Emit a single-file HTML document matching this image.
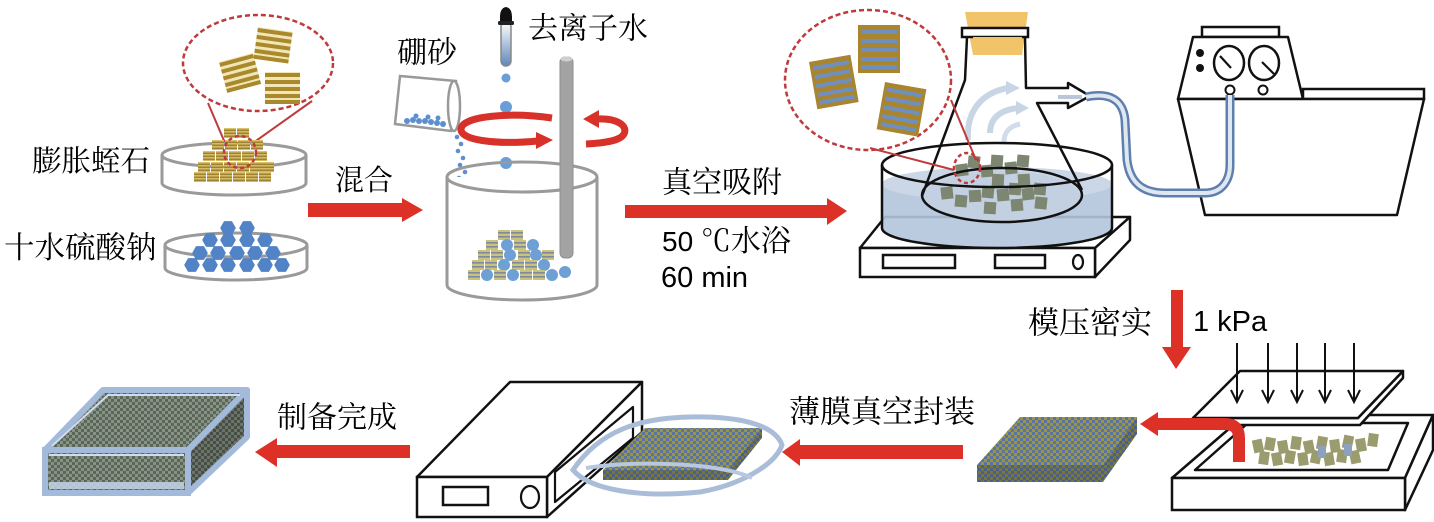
<!DOCTYPE html>
<html><head><meta charset="utf-8"><style>
html,body{margin:0;padding:0;background:#fff;}
svg{display:block;}
.cn{font-family:"Liberation Serif","Noto Serif CJK SC",serif;}
.la{font-family:"Liberation Sans",sans-serif;}
</style></head><body>
<svg width="1434" height="522" viewBox="0 0 1434 522" xmlns="http://www.w3.org/2000/svg">
<defs>
<g id="gt"><rect width="12" height="10" fill="#dcc06a"/><rect y="1.5" width="12" height="1.6" fill="#9c8232"/><rect y="4.5" width="12" height="1.6" fill="#9c8232"/><rect y="7.5" width="12" height="1.6" fill="#9c8232"/></g>
<g id="gb"><rect width="12" height="10" fill="#c9c27a"/><rect y="2" width="12" height="1.6" fill="#7f8aa0"/><rect y="6" width="12" height="1.6" fill="#7f8aa0"/></g>
<polygon id="hx" points="7,0 3.5,6.1 -3.5,6.1 -7,0 -3.5,-6.1 3.5,-6.1" fill="#5183c6" stroke="#5183c6" stroke-width="1.5" stroke-linejoin="round"/>
<rect id="gs" x="-6" y="-6" width="12" height="12" fill="#7c8670"/>
<rect id="ts" x="-5" y="-6.5" width="10" height="13" fill="#9a9c6e"/>
<g id="bt"><rect width="42" height="48" fill="#a8852e"/><rect x="3" y="5" width="36" height="4" fill="#6f90be"/><rect x="3" y="14" width="36" height="4" fill="#6f90be"/><rect x="3" y="23" width="36" height="4" fill="#6f90be"/><rect x="3" y="32" width="36" height="4" fill="#6f90be"/><rect x="3" y="40" width="36" height="4" fill="#6f90be"/></g>
<g id="st"><rect width="35" height="32" fill="#f2e6b6"/><rect y="1" width="35" height="4" fill="#a8892c"/><rect y="8" width="35" height="4" fill="#a8892c"/><rect y="15" width="35" height="4" fill="#a8892c"/><rect y="22" width="35" height="4" fill="#a8892c"/><rect y="28" width="35" height="4" fill="#a8892c"/></g>
<pattern id="ck" width="6" height="6" patternUnits="userSpaceOnUse"><rect width="6" height="6" fill="#9a9446"/><rect width="3" height="3" fill="#5a74a2"/><rect x="3" y="3" width="3" height="3" fill="#5a74a2"/></pattern>
<pattern id="ckd" width="6" height="6" patternUnits="userSpaceOnUse"><rect width="6" height="6" fill="#7a7636"/><rect width="3" height="3" fill="#4a6088"/><rect x="3" y="3" width="3" height="3" fill="#4a6088"/></pattern>
<pattern id="ckg" width="6" height="6" patternUnits="userSpaceOnUse"><rect width="6" height="6" fill="#8a9282"/><rect width="3" height="3" fill="#59665c"/><rect x="3" y="3" width="3" height="3" fill="#59665c"/></pattern>
<pattern id="ckg2" width="6" height="6" patternUnits="userSpaceOnUse"><rect width="6" height="6" fill="#6c7468"/><rect width="3" height="3" fill="#454f48"/><rect x="3" y="3" width="3" height="3" fill="#454f48"/></pattern>
<linearGradient id="liq" x1="0" y1="0" x2="0" y2="1"><stop offset="0" stop-color="#ffffff"/><stop offset="1" stop-color="#5f86b8"/></linearGradient>
</defs>

<!-- ===== Top-left: zoom ellipse ===== -->
<ellipse cx="258" cy="63" rx="75" ry="48" fill="none" stroke="#c0393b" stroke-width="2.5" stroke-dasharray="5,3"/>
<use href="#st" transform="translate(219,62) rotate(-15)"/>
<use href="#st" transform="translate(258,27) rotate(8)"/>
<use href="#st" transform="translate(265,72)"/>
<line x1="228" y1="150" x2="208" y2="103" stroke="#c0393b" stroke-width="2"/>
<line x1="253" y1="143" x2="312" y2="101" stroke="#c0393b" stroke-width="2"/>

<!-- dish 1 -->
<path d="M162 155 L162 183 A72 12 0 0 0 306 183 L306 155" fill="#fff" stroke="#9a9a9a" stroke-width="3"/>
<ellipse cx="234" cy="155" rx="72" ry="12" fill="#fff" stroke="#9a9a9a" stroke-width="3"/>
<g>
<use href="#gt" x="224" y="128"/><use href="#gt" x="237" y="128"/>
<use href="#gt" x="212" y="140"/><use href="#gt" x="225" y="140"/><use href="#gt" x="238" y="140"/><use href="#gt" x="251" y="140"/>
<use href="#gt" x="203" y="151"/><use href="#gt" x="216" y="151"/><use href="#gt" x="229" y="151"/><use href="#gt" x="242" y="151"/><use href="#gt" x="255" y="151"/>
<use href="#gt" x="198" y="162"/><use href="#gt" x="211" y="162"/><use href="#gt" x="224" y="162"/><use href="#gt" x="237" y="162"/><use href="#gt" x="250" y="162"/><use href="#gt" x="262" y="162"/>
<use href="#gt" x="194" y="172"/><use href="#gt" x="207" y="172"/><use href="#gt" x="220" y="172"/><use href="#gt" x="233" y="172"/><use href="#gt" x="246" y="172"/><use href="#gt" x="259" y="172"/>
</g>
<ellipse cx="240" cy="152" rx="16" ry="16" fill="none" stroke="#c0393b" stroke-width="2.5" stroke-dasharray="4,3"/>

<!-- dish 2 -->
<path d="M165 245 L165 268 A71 12 0 0 0 307 268 L307 245" fill="#fff" stroke="#9a9a9a" stroke-width="3"/>
<ellipse cx="236" cy="245" rx="71" ry="12" fill="#fff" stroke="#9a9a9a" stroke-width="3"/>
<g>
<use href="#hx" x="228" y="228"/><use href="#hx" x="247" y="228"/>
<use href="#hx" x="210" y="240"/><use href="#hx" x="228" y="240"/><use href="#hx" x="247" y="240"/><use href="#hx" x="265" y="240"/>
<use href="#hx" x="200" y="253"/><use href="#hx" x="218" y="253"/><use href="#hx" x="237" y="253"/><use href="#hx" x="255" y="253"/><use href="#hx" x="273" y="253"/>
<use href="#hx" x="192" y="265"/><use href="#hx" x="210" y="265"/><use href="#hx" x="228" y="265"/><use href="#hx" x="247" y="265"/><use href="#hx" x="265" y="265"/><use href="#hx" x="282" y="265"/>
</g>

<text class="cn" x="32" y="162" font-size="29.5" dominant-baseline="central">膨胀蛭石</text>
<text class="cn" x="4" y="248" font-size="30.5" dominant-baseline="central">十水硫酸钠</text>

<!-- arrow 1 -->
<polygon points="308,203 402,203 402,198 423,210 402,222 402,217 308,217" fill="#dd3127"/>
<text class="cn" x="335" y="181" font-size="29" dominant-baseline="central">混合</text>

<!-- ===== beaker ===== -->
<text class="cn" x="397" y="53" font-size="30" dominant-baseline="central">硼砂</text>
<text class="cn" x="528" y="29" font-size="30" dominant-baseline="central">去离子水</text>
<!-- dropper -->
<rect x="501" y="22" width="10" height="44" rx="5" fill="url(#liq)" stroke="#888" stroke-width="1.5"/>
<path d="M500 24 L500 17 Q500 8 506 7 Q512 8 512 17 L512 24 Z" fill="#111"/>
<rect x="498" y="21" width="16" height="4" rx="1.5" fill="#222"/>
<circle cx="506" cy="78" r="4.5" fill="#6a9ed6"/>
<circle cx="506" cy="107" r="6" fill="#6a9ed6"/>
<circle cx="506" cy="163" r="6" fill="#6a9ed6"/>
<!-- cup -->
<polygon points="400,76 456,81 451,131 395,124" fill="#fff" stroke="#999" stroke-width="2.5"/>
<ellipse cx="454" cy="106" rx="6" ry="25" fill="#fff" stroke="#999" stroke-width="2.5"/>
<g fill="#5c8fd0">
<circle cx="407" cy="121" r="3"/><circle cx="413" cy="120" r="3"/><circle cx="419" cy="121" r="3"/><circle cx="425" cy="121" r="3"/><circle cx="431" cy="122" r="3"/><circle cx="437" cy="123" r="3"/><circle cx="443" cy="124" r="3"/><circle cx="416" cy="116" r="2.5"/><circle cx="428" cy="117" r="2.5"/><circle cx="438" cy="118" r="2.5"/>
<circle cx="457" cy="137" r="2.3"/><circle cx="461" cy="144" r="2.3"/><circle cx="458" cy="151" r="2.3"/><circle cx="463" cy="158" r="2.3"/><circle cx="460" cy="165" r="2.3"/><circle cx="465" cy="172" r="2.3"/><circle cx="459" cy="178" r="2.3"/><circle cx="463" cy="184" r="2.3"/><circle cx="458" cy="188" r="2"/>
</g>
<!-- beaker body -->
<path d="M447 177 L447 285 A75 15 0 0 0 597 285 L597 177" fill="#fff" stroke="#9a9a9a" stroke-width="3"/>
<ellipse cx="522" cy="177" rx="75" ry="15" fill="none" stroke="#9a9a9a" stroke-width="3"/>
<g>
<use href="#gb" x="498" y="230"/><use href="#gb" x="511" y="230"/>
<use href="#gb" x="486" y="240"/><circle cx="507" cy="245" r="6" fill="#6e9fd5"/><use href="#gb" x="514" y="240"/><circle cx="533" cy="245" r="6" fill="#6e9fd5"/>
<use href="#gb" x="478" y="250"/><use href="#gb" x="491" y="250"/><circle cx="510" cy="255" r="6" fill="#6e9fd5"/><use href="#gb" x="518" y="250"/><circle cx="536" cy="255" r="6" fill="#6e9fd5"/><use href="#gb" x="542" y="250"/>
<use href="#gb" x="472" y="260"/><use href="#gb" x="485" y="260"/><circle cx="504" cy="265" r="6" fill="#6e9fd5"/><use href="#gb" x="512" y="260"/><use href="#gb" x="525" y="260"/><circle cx="544" cy="265" r="6" fill="#6e9fd5"/>
<use href="#gb" x="468" y="270"/><circle cx="487" cy="275" r="6" fill="#6e9fd5"/><use href="#gb" x="494" y="270"/><circle cx="513" cy="275" r="6" fill="#6e9fd5"/><use href="#gb" x="520" y="270"/><use href="#gb" x="533" y="270"/><circle cx="552" cy="275" r="6" fill="#6e9fd5"/><circle cx="565" cy="272" r="6" fill="#6e9fd5"/>
</g>
<!-- rod -->
<rect x="560" y="57" width="13" height="201" rx="5" fill="#a3a3a3" stroke="#8c8c8c" stroke-width="1"/>
<ellipse cx="566.5" cy="59" rx="6" ry="2.5" fill="#cfcfcf"/>
<!-- swirl -->
<path d="M552 118 C 510 112, 462 116, 461 129 C 460 140, 495 145, 538 141" stroke="#d8312a" stroke-width="7" fill="none"/>
<polygon points="536,132 553,140 536,149" fill="#d8312a"/>
<path d="M596 119 C 618 118, 628 126, 624 134 C 620 141, 605 143, 586 144" stroke="#d8312a" stroke-width="7" fill="none"/>
<polygon points="599,110 583,119 599,128" fill="#d8312a"/>

<!-- arrow 2 -->
<polygon points="625,205 827,205 827,198 847,211 827,225 827,218 625,218" fill="#dd3127"/>
<text class="cn" x="662" y="183" font-size="30" dominant-baseline="central">真空吸附</text>
<text x="662" y="241" font-size="28" dominant-baseline="central"><tspan class="la">50 </tspan><tspan class="cn" font-size="30">℃水浴</tspan></text>
<text class="la" x="661" y="278" font-size="29" dominant-baseline="central">60 min</text>

<!-- ===== flask / bath ===== -->
<ellipse cx="868" cy="80" rx="83" ry="70" fill="none" stroke="#c0393b" stroke-width="2.5" stroke-dasharray="5,3"/>
<use href="#bt" transform="translate(858,25)"/>
<use href="#bt" transform="translate(809,62) rotate(-10)"/>
<use href="#bt" transform="translate(885,82) rotate(10)"/>

<!-- hot plate -->
<polygon points="885,217 1130,217 1095,248 860,248" fill="#fff" stroke="#111" stroke-width="2.5" stroke-linejoin="round"/>
<polygon points="1095,248 1130,217 1130,240 1095,277" fill="#fff" stroke="#111" stroke-width="2.5" stroke-linejoin="round"/>
<rect x="860" y="248" width="235" height="29" fill="#fff" stroke="#111" stroke-width="2.5"/>
<rect x="883" y="255" width="72" height="13" fill="none" stroke="#111" stroke-width="2.5"/>
<rect x="995" y="255" width="50" height="13" fill="none" stroke="#111" stroke-width="2.5"/>
<ellipse cx="1078" cy="262" rx="5" ry="7" fill="none" stroke="#111" stroke-width="2.2"/>

<!-- water -->
<path d="M882 182 L882 228 A115 20 0 0 0 1112 228 L1112 182 Z" fill="#b3c4db" opacity="0.9"/>
<ellipse cx="997" cy="184" rx="115" ry="17" fill="#cbd7e6"/>
<ellipse cx="1002" cy="196" rx="78" ry="25" fill="#c3d0e1"/>
<!-- particles -->
<g>
<use href="#gs" transform="translate(962,170) rotate(-8)"/><use href="#gs" transform="translate(974,162) rotate(6)"/><use href="#gs" transform="translate(987,171) rotate(-5)"/><use href="#gs" transform="translate(997,161) rotate(4)"/><use href="#gs" transform="translate(1011,168) rotate(-6)"/><use href="#gs" transform="translate(1023,161) rotate(5)"/>
<use href="#gs" transform="translate(998,180) rotate(3)"/><use href="#gs" transform="translate(1024,180) rotate(-4)"/>
<use href="#gs" transform="translate(947,193) rotate(-6)"/><use href="#gs" transform="translate(961,201) rotate(5)"/><use href="#gs" transform="translate(975,196) rotate(-3)"/><use href="#gs" transform="translate(988,192) rotate(6)"/><use href="#gs" transform="translate(1003,195) rotate(-5)"/><use href="#gs" transform="translate(1015,189) rotate(4)"/><use href="#gs" transform="translate(1028,194) rotate(-7)"/><use href="#gs" transform="translate(1040,189) rotate(5)"/>
<use href="#gs" transform="translate(990,208) rotate(4)"/><use href="#gs" transform="translate(1017,205) rotate(-5)"/><use href="#gs" transform="translate(1041,203) rotate(6)"/>
</g>
<!-- flask -->
<ellipse cx="1002" cy="195" rx="80" ry="27" fill="none" stroke="#111" stroke-width="2.5"/>
<polygon points="965,12 1028,12 1022,55 973,55" fill="#f2c46a"/>
<rect x="962" y="28" width="66" height="9" fill="#fff" stroke="#111" stroke-width="2.5"/>
<polygon points="973,37 1022,37 1020,52 975,52" fill="#f2c46a"/>
<polyline points="967,37 965,80 922,196" fill="none" stroke="#111" stroke-width="2.5"/>
<polygon points="1027,89 1068,89 1068,84 1089,96 1068,107 1068,102 1036,102" fill="#fff"/>
<polyline points="1025,37 1026,88 1068,88 1068,83 1090,96 1068,108 1068,103 1037,103 1082,190" fill="none" stroke="#111" stroke-width="2.5" stroke-linejoin="round"/>
<line x1="1058" y1="97" x2="1082" y2="97" stroke="#b9c7d9" stroke-width="4"/>
<!-- vapor -->
<path d="M968 140 C 966 108, 985 92, 1008 88" fill="none" stroke="#c8d5e5" stroke-width="6"/>
<polygon points="1006,81 1020,88 1006,95" fill="#c8d5e5"/>
<path d="M990 133 C 990 118, 1000 110, 1018 108" fill="none" stroke="#c8d5e5" stroke-width="6"/>
<polygon points="1016,101 1029,108 1016,115" fill="#c8d5e5"/>
<path d="M1004 142 C 1004 132, 1010 126, 1020 124" fill="none" stroke="#d2dcea" stroke-width="5"/>
<!-- bath outline -->
<ellipse cx="997" cy="165" rx="115" ry="22" fill="none" stroke="#111" stroke-width="2.5"/>
<path d="M882 165 L882 228 A115 20 0 0 0 1112 228 L1112 165" fill="none" stroke="#111" stroke-width="2.5"/>
<!-- red callout -->
<line x1="954" y1="170" x2="870" y2="148" stroke="#c0393b" stroke-width="2"/>
<line x1="976" y1="160" x2="951" y2="100" stroke="#c0393b" stroke-width="2"/>
<ellipse cx="967" cy="168" rx="13" ry="15" fill="none" stroke="#c0393b" stroke-width="2.5" stroke-dasharray="4,3"/>

<!-- pump -->
<rect x="1202" y="27" width="77" height="10" fill="#fff" stroke="#111" stroke-width="2.5"/>
<polygon points="1193,37 1288,37 1303,99 1178,99" fill="#fff" stroke="#111" stroke-width="2.5" stroke-linejoin="round"/>
<rect x="1303" y="89" width="121" height="10" fill="#fff" stroke="#111" stroke-width="2.5"/>
<polygon points="1178,99 1424,99 1397,215 1205,215" fill="#fff" stroke="#111" stroke-width="2.5" stroke-linejoin="round"/>
<ellipse cx="1229" cy="63" rx="15" ry="17" fill="#fff" stroke="#111" stroke-width="2.5"/>
<ellipse cx="1264" cy="63" rx="15" ry="17" fill="#fff" stroke="#111" stroke-width="2.5"/>
<line x1="1220" y1="56" x2="1231" y2="68" stroke="#111" stroke-width="2.2"/>
<line x1="1262" y1="62" x2="1274" y2="74" stroke="#111" stroke-width="2.2"/>
<circle cx="1200" cy="53" r="4" fill="#111"/>
<circle cx="1200" cy="68" r="4" fill="#111"/>
<circle cx="1230" cy="90" r="4.5" fill="#fff" stroke="#111" stroke-width="2"/>
<circle cx="1263" cy="90" r="4.5" fill="#fff" stroke="#111" stroke-width="2"/>
<!-- tube -->
<path d="M1086 97 C 1110 92, 1123 100, 1125 120 L 1127 160 C 1130 185, 1145 193, 1165 193 L 1205 193 C 1222 193, 1230 180, 1230 165 L 1230 95" fill="none" stroke="#5f80ae" stroke-width="9"/>
<path d="M1086 97 C 1110 92, 1123 100, 1125 120 L 1127 160 C 1130 185, 1145 193, 1165 193 L 1205 193 C 1222 193, 1230 180, 1230 165 L 1230 95" fill="none" stroke="#dfe7f1" stroke-width="4"/>

<!-- ===== press ===== -->
<rect x="1171" y="290" width="12" height="58" fill="#dd3127"/>
<polygon points="1162,347 1191,347 1176,369" fill="#dd3127"/>
<text class="cn" x="1028" y="323" font-size="31" dominant-baseline="central">模压密实</text>
<text class="la" x="1193" y="322" font-size="29" dominant-baseline="central">1 kPa</text>

<!-- tray -->
<polygon points="1245,415 1433,415 1405,478 1172,478" fill="#fff" stroke="#111" stroke-width="2.5" stroke-linejoin="round"/>
<polygon points="1405,478 1433,415 1433,450 1405,510" fill="#fff" stroke="#111" stroke-width="2.5" stroke-linejoin="round"/>
<rect x="1172" y="478" width="233" height="32" fill="#fff" stroke="#111" stroke-width="2.5"/>
<polygon points="1248,423 1408,423 1388,470 1195,470" fill="#fff" stroke="#111" stroke-width="2.5" stroke-linejoin="round"/>
<g>
<use href="#ts" transform="translate(1258,446) rotate(-12)"/><use href="#ts" transform="translate(1270,444) rotate(10)"/><use href="#ts" transform="translate(1283,447) rotate(-10)"/><use href="#ts" transform="translate(1296,443) rotate(8)"/><use href="#ts" transform="translate(1309,447) rotate(-12)"/><use href="#ts" transform="translate(1322,443) rotate(10)"/><use href="#ts" transform="translate(1335,446) rotate(-8)"/><use href="#ts" transform="translate(1348,442) rotate(12)"/><use href="#ts" transform="translate(1361,445) rotate(-10)"/><use href="#ts" transform="translate(1373,440) rotate(8)"/>
<use href="#ts" transform="translate(1264,458) rotate(8)"/><use href="#ts" transform="translate(1277,459) rotate(-10)"/><use href="#ts" transform="translate(1290,457) rotate(10)"/><use href="#ts" transform="translate(1303,459) rotate(-8)"/><use href="#ts" transform="translate(1316,457) rotate(12)"/><use href="#ts" transform="translate(1329,459) rotate(-10)"/><use href="#ts" transform="translate(1342,456) rotate(8)"/><use href="#ts" transform="translate(1355,457) rotate(-12)"/>
<rect x="1318" y="446" width="8" height="12" fill="#8da0bc"/><rect x="1344" y="444" width="8" height="12" fill="#8da0bc"/>
</g>
<!-- plate -->
<polygon points="1193,418 1358,418 1403,371 1403,378 1360,425 1193,425" fill="#fff" stroke="#111" stroke-width="2.5" stroke-linejoin="round"/>
<polygon points="1240,371 1403,371 1358,418 1193,418" fill="#fff" stroke="#111" stroke-width="2.5" stroke-linejoin="round"/>
<g stroke="#111" stroke-width="2" fill="none">
<line x1="1237" y1="343" x2="1237" y2="401"/><polyline points="1231,390 1237,402 1243,390"/>
<line x1="1268" y1="343" x2="1268" y2="401"/><polyline points="1262,390 1268,402 1274,390"/>
<line x1="1297" y1="343" x2="1297" y2="401"/><polyline points="1291,390 1297,402 1303,390"/>
<line x1="1325" y1="343" x2="1325" y2="401"/><polyline points="1319,390 1325,402 1331,390"/>
<line x1="1354" y1="343" x2="1354" y2="401"/><polyline points="1348,390 1354,402 1360,390"/>
</g>
<!-- red L arrow -->
<path d="M1239 462 L1239 438 Q1239 424 1225 424 L1155 424" fill="none" stroke="#dd3127" stroke-width="12"/>
<polygon points="1158,412 1140,424 1158,436" fill="#dd3127"/>

<!-- slab right -->
<polygon points="1020,417 1137,417 1103,465 977,465" fill="url(#ck)"/>
<polygon points="977,465 1103,465 1103,482 977,482" fill="url(#ckd)"/>
<polygon points="1103,465 1137,417 1137,434 1103,482" fill="url(#ckd)"/>

<!-- arrow middle -->
<polygon points="963,445 800,445 800,439 782,452 800,466 800,459 963,459" fill="#dd3127"/>
<text class="cn" x="789" y="412" font-size="31" dominant-baseline="central">薄膜真空封装</text>

<!-- sealer -->
<polygon points="510,382 642,382 547,477 417,477" fill="#fff" stroke="#111" stroke-width="2.5" stroke-linejoin="round"/>
<polygon points="547,477 642,382 642,432 547,517" fill="#fff" stroke="#111" stroke-width="2.5" stroke-linejoin="round"/>
<rect x="417" y="477" width="130" height="40" fill="#fff" stroke="#111" stroke-width="2.5"/>
<polygon points="555,472 633,407 633,438 555,502" fill="#fff" stroke="#111" stroke-width="2.2" stroke-linejoin="round"/>
<rect x="443" y="487" width="45" height="18" fill="none" stroke="#111" stroke-width="2.5"/>
<ellipse cx="530" cy="497" rx="9" ry="11" fill="none" stroke="#111" stroke-width="2.2"/>
<!-- bag + slab -->
<polygon points="645,428 762,428 728,470 603,470" fill="url(#ck)"/>
<polygon points="603,470 728,470 728,480 603,480" fill="url(#ckd)"/>
<polygon points="728,470 762,428 762,438 728,480" fill="url(#ckd)"/>
<path d="M573 470 C 600 430, 640 418, 690 417 C 740 416, 775 425, 782 445 C 775 465, 740 485, 700 492 C 640 498, 590 490, 573 470 Z" fill="none" stroke="#a9bdd8" stroke-width="5"/>
<path d="M586 468 C 640 460, 720 463, 752 478" fill="none" stroke="#b7c8e0" stroke-width="4"/>

<!-- arrow left -->
<polygon points="410,445 277,445 277,438 255,452 277,467 277,458 410,458" fill="#dd3127"/>
<text class="cn" x="277" y="418" font-size="30" dominant-baseline="central">制备完成</text>

<!-- final block -->
<polygon points="103,390 247,390 188,450 45,450" fill="url(#ckg)" stroke="#a3badb" stroke-width="6" stroke-linejoin="round"/>
<polygon points="188,450 247,390 247,437 188,493" fill="url(#ckg2)" stroke="#a3badb" stroke-width="6" stroke-linejoin="round"/>
<rect x="45" y="450" width="143" height="43" fill="url(#ckg)" stroke="#a3badb" stroke-width="6"/>
<polyline points="52,446 108,395 240,395" fill="none" stroke="#cfdcee" stroke-width="2"/>
<rect x="49" y="482" width="135" height="7" fill="#c3d3e8" opacity="0.85"/>
<line x1="49" y1="455" x2="184" y2="455" stroke="#cfdcee" stroke-width="2"/>
</svg>
</body></html>
